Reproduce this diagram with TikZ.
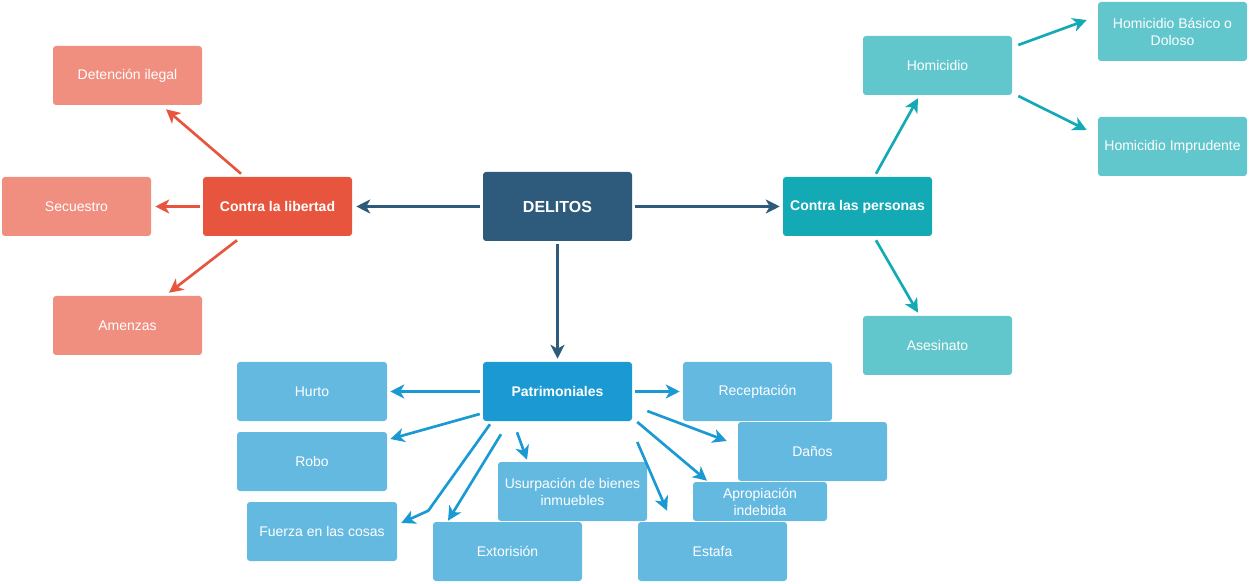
\documentclass[tikz,border=0pt]{standalone}
\usepackage{fontspec}
\setmainfont{Liberation Sans}
\usetikzlibrary{arrows.meta,calc}
\definecolor{cdel}{HTML}{2E5B7B}
\definecolor{clib}{HTML}{E8553E}
\definecolor{clibl}{HTML}{F08F80}
\definecolor{cper}{HTML}{13AAB5}
\definecolor{cperl}{HTML}{62C7CD}
\definecolor{cpat}{HTML}{1A99D2}
\definecolor{cpatl}{HTML}{64B9E1}
\begin{document}
\begin{tikzpicture}[x=0.75pt,y=-0.75pt,
  box/.style={rounded corners=2.25pt, inner sep=0pt, text=white, align=center,
    minimum width=111.75pt, minimum height=44.25pt,
    font=\fontsize{10.5}{12.75}\selectfont},
  mainbox/.style={box, font=\fontsize{10.5}{12.75}\selectfont\bfseries},
  arr/.style={line width=2pt, -{Stealth[length=10.5pt,width=10.5pt,inset=3pt]}}]
\useasboundingbox (0,0) rectangle (1249,584);
% nodes
\node[mainbox, fill=cdel, minimum height=51.75pt, font=\fontsize{12}{14}\selectfont\bfseries] (del) at (557.5,206.5) {DELITOS};
\node[mainbox, fill=clib] (lib) at (277.5,206.5) {Contra la libertad};
\node[box, fill=clibl] (det) at (127.5,75.5) {Detención ilegal};
\node[box, fill=clibl] (sec) at (76.5,206.5) {Secuestro};
\node[box, fill=clibl] (ame) at (127.5,325.5) {Amenzas};
\node[mainbox, fill=cper] (per) at (857.5,206.5) {Contra las personas};
\node[box, fill=cperl] (hom) at (937.5,65.5) {Homicidio};
\node[box, fill=cperl] (hbd) at (1172.5,31.5) {Homicidio Básico o\\Doloso};
\node[box, fill=cperl] (him) at (1172.5,146.5) {Homicidio Imprudente};
\node[box, fill=cperl] (ase) at (937.5,345.5) {Asesinato};
\node[mainbox, fill=cpat] (pat) at (557.5,391.5) {Patrimoniales};
\node[box, fill=cpatl, minimum width=112.5pt] (hur) at (312,391.5) {Hurto};
\node[box, fill=cpatl, minimum width=112.5pt] (rob) at (312,461.5) {Robo};
\node[box, fill=cpatl, minimum width=112.5pt] (fue) at (322,531.5) {Fuerza en las cosas};
\node[box, fill=cpatl] (ext) at (507.5,551.5) {Extorisión};
\node[box, fill=cpatl] (usu) at (572.5,491.5) {Usurpación de bienes\\inmuebles};
\node[box, fill=cpatl] (est) at (712.5,551.5) {Estafa};
\node[box, fill=cpatl] (rec) at (757.5,391.5) {Receptación};
\node[box, fill=cpatl] (dan) at (812.5,451.5) {Daños};
\node[box, fill=cpatl, minimum width=100.5pt, minimum height=29.25pt] (apr) at (760,501.5) {Apropiación\\indebida};
% connectors from DELITOS
\draw[arr, cdel] ($(del.west)+(-3,0)$) -- ($(lib.east)+(4,0)$);
\draw[arr, cdel] ($(del.east)+(3,0)$) -- ($(per.west)+(-3,0)$);
\draw[arr, cdel] ($(del.south)+(0,3)$) -- ($(pat.north)+(0,-3)$);
% Contra la libertad
\draw[arr, clib] ($(lib.north)+(-36.5,-3)$) -- ($(det.south)+(38.5,4)$);
\draw[arr, clib] ($(lib.west)+(-3,0)$) -- ($(sec.east)+(4,0)$);
\draw[arr, clib] ($(lib.south)+(-40.5,4)$) -- ($(ame.north)+(41.5,-3)$);
% Contra las personas
\draw[arr, cper] ($(per.north)+(18.5,-3)$) -- ($(hom.south)+(-19.5,3)$);
\draw[arr, cper] ($(per.south)+(18.5,4)$) -- ($(ase.north)+(-19.5,-3)$);
\draw[arr, cper] ($(hom.east)+(6,-20.5)$) -- ($(hbd.west)+(-11,-11.5)$);
\draw[arr, cper] ($(hom.east)+(6,30.5)$) -- ($(him.west)+(-11,-16.5)$);
% Patrimoniales
\coordinate (bend) at ($(fue.north east)+(31,9)$);
\draw[arr, cpat] ($(pat.west)+(-3,0)$) -- ($(hur.east)+(3,0)$);
\draw[arr, cpat] ($(pat.west)+(-3,22.5)$) -- ($(rob.east)+(3,-22.5)$);
\draw[arr, cpat] ($(pat.south)+(-67.5,3)$) -- (bend) -- ($(fue.east)+(4,-8.5)$);
\draw[arr, cpat] ($(pat.south)+(-56.5,13)$) -- ($(ext.north)+(-59.5,-1)$);
\draw[arr, cpat] ($(pat.south)+(-40.5,11)$) -- ($(usu.north)+(-45.5,-2)$);
\draw[arr, cpat] ($(pat.east)+(3,0)$) -- ($(rec.west)+(-3,0)$);
\draw[arr, cpat] ($(pat.east)+(15,19.5)$) -- ($(dan.west)+(-11,-10.5)$);
\draw[arr, cpat] ($(pat.east)+(5,30.5)$) -- ($(apr.north)+(-53,-1)$);
\draw[arr, cpat] ($(pat.east)+(5,50.5)$) -- ($(est.north)+(-45.5,-11)$);
\end{tikzpicture}
\end{document}
